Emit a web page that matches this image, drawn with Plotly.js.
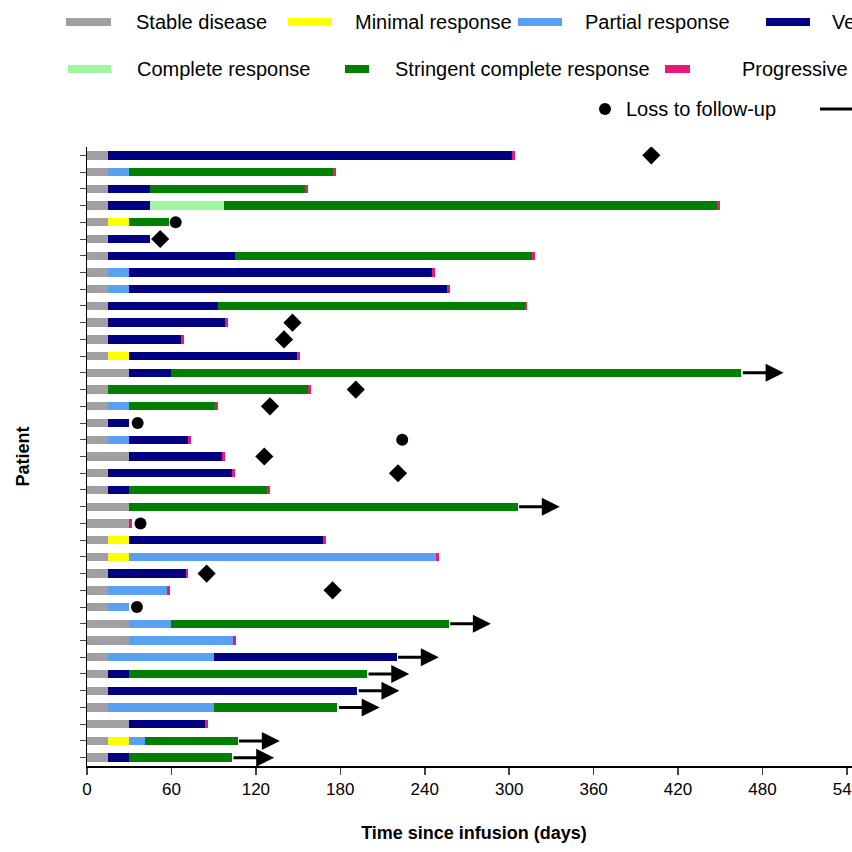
<!DOCTYPE html>
<html>
<head>
<meta charset="utf-8">
<script src="https://cdn.plot.ly/plotly-3.0.1.min.js"></script>
<style>html,body{margin:0;padding:0;overflow:hidden;background:#fff}</style>
</head>
<body>
<div id="plot"></div>
<script>
// durations (days) per patient, top to bottom
var stable    = [15,15,15,15,15,15,15,15,15,15,15,15,15,30,15,15,15,15,30,15,15,30,30,15,15,15,15,15,30,30,15,15,15,15,30,15,15];
var minimal   = [0,0,0,0,15,0,0,0,0,0,0,0,15,0,0,0,0,0,0,0,0,0,0,15,15,0,0,0,0,0,0,0,0,0,0,15,0];
var partial   = [0,15,0,0,0,0,0,15,15,0,0,0,0,0,0,15,0,15,0,0,0,0,0,0,218,0,42,15,30,74,75,0,0,75,0,11,0];
var vgpr      = [287,0,30,30,0,30,90,215,226,78,83,52,119,30,0,0,15,42,66,88,15,0,0,138,0,55,0,0,0,0,130,15,177,0,54,0,15];
var complete  = [0,0,0,52,0,0,0,0,0,0,0,0,0,0,0,0,0,0,0,0,0,0,0,0,0,0,0,0,0,0,0,0,0,0,0,0,0];
var stringent = [0,145,110,351,28,0,211,0,0,218,0,0,0,405,142,61,0,0,0,0,98,276,0,0,0,0,0,0,197,0,0,169,0,88,0,66,73];
var progress  = [2,2,2,2,0,0,2,2,2,2,2,2,2,0,2,2,0,2,2,2,2,0,2,2,2,2,2,0,0,2,0,0,0,0,2,0,0];
var ongoing   = [0,0,0,0,0,0,0,0,0,0,0,0,0,1,0,0,0,0,0,0,0,1,0,0,0,0,0,0,1,0,1,1,1,1,0,1,1];
var lossPatient = [5,17,18,23,28];
var lossDay     = [63,36,224,38,35.5];
var deathPatient = [1,6,11,12,15,16,19,20,26,27];
var deathDay     = [401,52,146,140,191,130,126,221,85,174.5];
var xTicks = [0,60,120,180,240,300,360,420,480,540];

var patients = stable.map(function(v, i){ return i + 1; });
var series = [
  {name: 'Stable disease', x: stable, color: '#a0a0a4'},
  {name: 'Minimal response', x: minimal, color: '#ffff00'},
  {name: 'Partial response', x: partial, color: '#5aa0f0'},
  {name: 'Very good partial response', x: vgpr, color: '#000080'},
  {name: 'Complete response', x: complete, color: '#a0f5a0'},
  {name: 'Stringent complete response', x: stringent, color: '#007f00'},
  {name: 'Progressive disease', x: progress, color: '#e8197a'}
];

var data = series.map(function(s){
  return {type: 'bar', orientation: 'h', y: patients, x: s.x, name: s.name,
    marker: {color: s.color, line: {width: 0}}, width: 0.5, hoverinfo: 'skip'};
});
data.push({type: 'scatter', mode: 'markers', x: lossDay, y: lossPatient,
  marker: {symbol: 'circle', size: 12, color: '#000'}, hoverinfo: 'skip'});
data.push({type: 'scatter', mode: 'markers', x: deathDay, y: deathPatient,
  marker: {symbol: 'diamond', size: 14, color: '#000'}, hoverinfo: 'skip'});

var W = 880, L = 87, R = 19, T = 147, B = 86, H = 852;
var pw = W - L - R, ph = H - T - B;
function px(x){ return (x - L) / pw; }
function py(y){ return 1 - (y - T) / ph; }

var annotations = [], shapes = [];
// ongoing arrows
patients.forEach(function(p, i){
  if(!ongoing[i]) return;
  var end = stable[i] + minimal[i] + partial[i] + vgpr[i] + complete[i] + stringent[i] + progress[i];
  annotations.push({x: end + 30, y: p, ax: end, ay: p, xref: 'x', yref: 'y', axref: 'x', ayref: 'y',
    text: '', showarrow: true, arrowhead: 2, arrowsize: 1.2, arrowwidth: 3, arrowcolor: '#000'});
});

// legend drawn by hand (it runs off the right of the page)
var legend = [
  {x0: 66, x1: 111, y: 22, tx: 134, text: 'Stable disease', color: '#a0a0a4'},
  {x0: 288, x1: 332, y: 22, tx: 353, text: 'Minimal response', color: '#ffff00'},
  {x0: 518, x1: 562, y: 22, tx: 583, text: 'Partial response', color: '#5aa0f0'},
  {x0: 766, x1: 810, y: 22, tx: 830, text: 'Very good partial response', color: '#000080'},
  {x0: 68, x1: 111, y: 69, tx: 135, text: 'Complete response', color: '#a0f5a0'},
  {x0: 345, x1: 369, y: 69, tx: 393, text: 'Stringent complete response', color: '#007f00'},
  {x0: 665, x1: 690, y: 69, tx: 740, text: 'Progressive disease', color: '#e8197a'}
];
legend.forEach(function(l){
  shapes.push({type: 'line', xref: 'paper', yref: 'paper', x0: px(l.x0), x1: px(l.x1), y0: py(l.y), y1: py(l.y),
    line: {color: l.color, width: 8}});
  annotations.push({xref: 'paper', yref: 'paper', x: px(l.tx), y: py(l.y), text: l.text, showarrow: false,
    xanchor: 'left', yanchor: 'middle', font: {size: 20}});
});
shapes.push({type: 'circle', xref: 'paper', yref: 'paper', x0: px(599), x1: px(611), y0: py(103), y1: py(115),
  fillcolor: '#000', line: {width: 0}});
annotations.push({xref: 'paper', yref: 'paper', x: px(624), y: py(109), text: 'Loss to follow-up', showarrow: false,
  xanchor: 'left', yanchor: 'middle', font: {size: 20}});
shapes.push({type: 'line', xref: 'paper', yref: 'paper', x0: px(820), x1: px(870), y0: py(109), y1: py(109),
  line: {color: '#000', width: 3}});

var layout = {
  width: W, height: H,
  margin: {l: L, r: R, t: T, b: B},
  barmode: 'stack', bargap: 0.5, showlegend: false,
  paper_bgcolor: '#fff', plot_bgcolor: '#fff',
  font: {family: 'Liberation Sans, Arial, sans-serif', color: '#000', size: 16},
  xaxis: {range: [0, 550], tickvals: xTicks, ticks: 'outside', ticklen: 7, tickwidth: 1.5,
    showline: true, linewidth: 1.5, linecolor: '#000', showgrid: false, zeroline: false,
    tickfont: {size: 17},
    title: {text: '<b>Time since infusion (days)</b>', font: {size: 18}, standoff: 28}},
  yaxis: {range: [37.5, 0.5], tickvals: patients, showticklabels: false, ticks: 'outside', ticklen: 6,
    showline: true, linewidth: 1.5, linecolor: '#000', showgrid: false, zeroline: false,
    title: {text: '<b>Patient</b>', font: {size: 18}, standoff: 45}},
  annotations: annotations, shapes: shapes
};

Plotly.newPlot('plot', data, layout, {staticPlot: true});
</script>
</body>
</html>
